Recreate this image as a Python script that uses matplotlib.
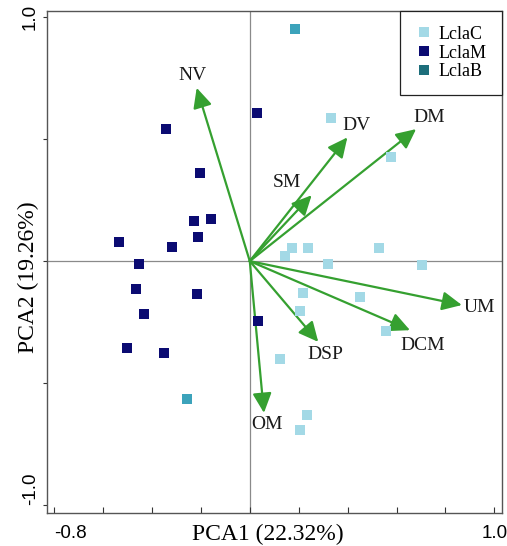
import matplotlib
matplotlib.use('Agg')
import matplotlib.pyplot as plt
from matplotlib.lines import Line2D

# ---------------- data ----------------
lclaC_x = [0.331, 0.576, 0.172, 0.144, 0.238, 0.530, 0.320, 0.706, 0.219, 0.451, 0.206, 0.124, 0.233, 0.206, 0.557]
lclaC_y = [0.585, 0.427, 0.052, 0.022, 0.052, 0.052, -0.012, -0.016, -0.130, -0.149, -0.204, -0.400, -0.631, -0.693, -0.287]

lclaM_x = [0.029, -0.342, -0.202, -0.229, -0.158, -0.210, -0.534, -0.319, -0.453, -0.465, -0.217, -0.433, 0.035, -0.500, -0.350]
lclaM_y = [0.609, 0.542, 0.362, 0.165, 0.172, 0.097, 0.079, 0.059, -0.012, -0.115, -0.136, -0.216, -0.245, -0.354, -0.378]

lclaB_x = [0.185, -0.256]
lclaB_y = [0.950, -0.567]

variables = ['NV', 'DV', 'DM', 'SM', 'UM', 'DCM', 'DSP', 'OM']
load_x = [-0.217, 0.399, 0.680, 0.253, 0.867, 0.655, 0.280, 0.058]
load_y = [0.710, 0.507, 0.541, 0.270, -0.180, -0.283, -0.331, -0.622]

x_ticks = [-0.8, -0.6, -0.4, -0.2, 0.0, 0.2, 0.4, 0.6, 0.8, 1.0]
x_tick_labels = ['-0.8', '', '', '', '', '', '', '', '', '1.0']
y_ticks = [-1.0, -0.5, 0.0, 0.5, 1.0]
y_tick_labels = ['-1.0', '', '', '', '1.0']

group_names = ['LclaC', 'LclaM', 'LclaB']
xlabel = 'PCA1 (22.32%)'
ylabel = 'PCA2 (19.26%)'

# ---------------- style ----------------
col_C = '#a3d9e6'
col_M = '#0b0b72'
col_B_pt = '#3ca3bb'
col_B_leg = '#1d6e7b'
green = '#35a030'
serif = 'Liberation Serif'
sans = 'Liberation Sans'

label_offsets = {  # points
    'NV': (-2.9, 9.1), 'DV': (6.8, 8.9), 'DM': (9.6, 8.4), 'SM': (-17.6, 8.9),
    'UM': (12.4, -1.7), 'DCM': (9.1, -10.8), 'DSP': (4.8, -8.9), 'OM': (1.9, -8.1),
}

fig = plt.figure(figsize=(5.07, 5.46), dpi=100)
ax = fig.add_axes([47 / 507, 1 - 512.7 / 546, (501.7 - 47) / 507, (512.7 - 11) / 546])
ax.set_xlim(-0.829, 1.030)
ax.set_ylim(-1.031, 1.025)

ax.axhline(0, color='#8a8a8a', lw=0.9, zorder=1)
ax.axvline(0, color='#8a8a8a', lw=0.9, zorder=1)

for name, lx, ly in zip(variables, load_x, load_y):
    ax.annotate('', xy=(lx, ly), xytext=(0, 0),
                arrowprops=dict(arrowstyle='-|>,head_length=0.75,head_width=0.36',
                                color=green, lw=1.6, shrinkA=0, shrinkB=0,
                                mutation_scale=16), zorder=2)
    dx, dy = label_offsets[name]
    ax.annotate(name, xy=(lx, ly), xytext=(dx, dy), textcoords='offset points',
                ha='center', va='center', fontsize=14, family=serif, color='#1a1a1a', zorder=4)

ms = 52
ax.scatter(lclaC_x, lclaC_y, marker='s', s=ms, color=col_C, linewidths=0, zorder=3)
ax.scatter(lclaM_x, lclaM_y, marker='s', s=ms, color=col_M, linewidths=0, zorder=3)
ax.scatter(lclaB_x, lclaB_y, marker='s', s=ms, color=col_B_pt, linewidths=0, zorder=3)

handles = [Line2D([], [], marker='s', ls='', markersize=7.5, color=c, markeredgewidth=0)
           for c in (col_C, col_M, col_B_leg)]
leg = ax.legend(handles, group_names, loc='upper right', borderaxespad=0,
                frameon=True, fancybox=False, edgecolor='#222222', framealpha=1,
                prop={'family': serif, 'size': 13}, handlelength=1.0,
                handletextpad=0.35, labelspacing=0.1, borderpad=0.82)
leg.get_frame().set_linewidth(0.9)

ax.set_xticks(x_ticks)
ax.set_xticklabels(x_tick_labels, family=sans, fontsize=13.5)
ax.set_yticks(y_ticks)
ax.set_yticklabels(y_tick_labels, family=sans, fontsize=13.5, rotation=90, va='center')
ax.tick_params(axis='x', direction='in', length=4, pad=9, color='#333333')
ax.tick_params(axis='y', direction='out', length=3, pad=3, color='#333333')
xl = ax.get_xticklabels()
xl[0].set_ha('left')
yl = ax.get_yticklabels()
yl[0].set_va('bottom')
for s in ax.spines.values():
    s.set_color('#555555')
    s.set_linewidth(1.0)

ax.set_xlabel(xlabel, family=serif, fontsize=17, va='center')
ax.xaxis.set_label_coords(0.486, -0.043)
ax.set_ylabel(ylabel, family=serif, fontsize=17, va='center')
ax.yaxis.set_label_coords(-0.040, 0.47)

fig.savefig('out.png', dpi=100)
